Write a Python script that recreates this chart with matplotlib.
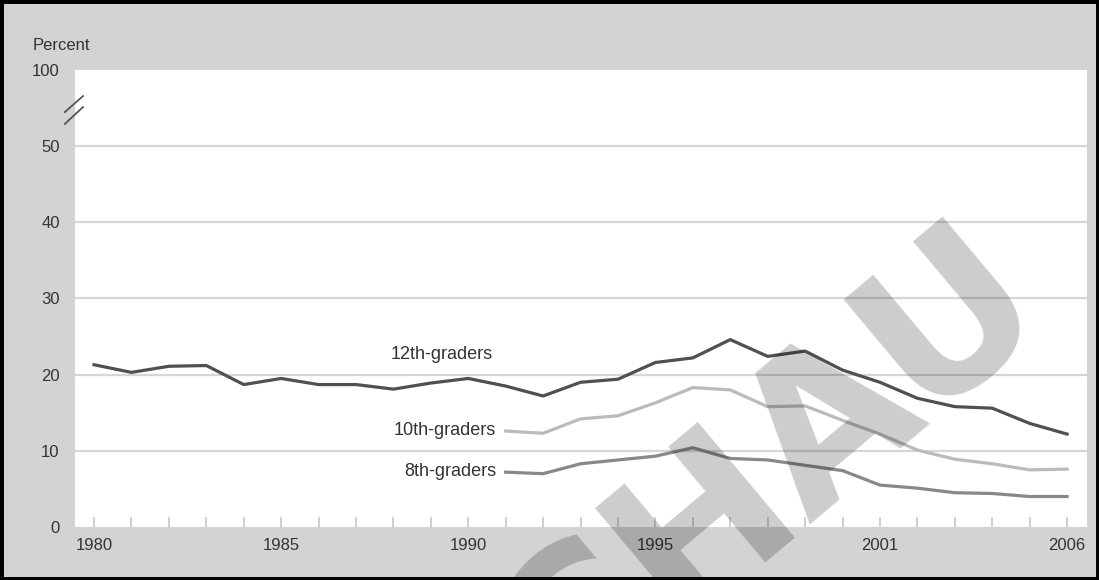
import matplotlib.pyplot as plt
from matplotlib.patches import Rectangle

plt.rcParams['font.family'] = ['Liberation Sans', 'DejaVu Sans']

years_12 = list(range(1980, 2007))
grade12 = [21.3, 20.3, 21.1, 21.2, 18.7, 19.5, 18.7, 18.7, 18.1, 18.9,
           19.5, 18.5, 17.2, 19.0, 19.4, 21.6, 22.2, 24.6, 22.4, 23.1,
           20.6, 19.0, 16.9, 15.8, 15.6, 13.6, 12.2]

years_lower = list(range(1991, 2007))
grade10 = [12.6, 12.3, 14.2, 14.6, 16.3, 18.3, 18.0, 15.8, 15.9, 14.0,
           12.2, 10.1, 8.9, 8.3, 7.5, 7.6]
grade8 = [7.2, 7.0, 8.3, 8.8, 9.3, 10.4, 9.0, 8.8, 8.1, 7.4,
          5.5, 5.1, 4.5, 4.4, 4.0, 4.0]

xtick_years = [1980, 1985, 1990, 1995, 2001, 2006]
ytick_vals = [0, 10, 20, 30, 40, 50, 60]
ytick_labels = ['0', '10', '20', '30', '40', '50', '100']

bg = '#d3d3d3'
txt = '#333333'

fig = plt.figure(figsize=(10.99, 5.80), dpi=100, facecolor=bg)
ax = fig.add_axes([0.0682, 0.0914, 0.9208, 0.7879])
ax.set_facecolor('white')

for y in ytick_vals[1:-1]:
    ax.axhline(y, color='#d6d6d6', lw=1.6, zorder=1)

ax.plot(years_12, grade12, color='#505050', lw=2.3, zorder=3)
ax.plot(years_lower, grade10, color='#bbbbbb', lw=2.3, zorder=3)
ax.plot(years_lower, grade8, color='#888888', lw=2.3, zorder=3)

ax.text(1989.3, 22.6, '12th-graders', ha='center', va='center',
        fontsize=13, color=txt)
ax.text(1990.75, 12.7, '10th-graders', ha='right', va='center',
        fontsize=13, color=txt)
ax.text(1990.75, 7.35, '8th-graders', ha='right', va='center',
        fontsize=13, color=txt)

ax.set_xlim(1979.49, 2006.53)
ax.set_ylim(0, 60)

ax.set_xticks(xtick_years)
ax.set_xticklabels([str(y) for y in xtick_years])
ax.set_xticks(years_12, minor=True)
ax.tick_params(axis='x', which='both', direction='in', length=7,
               color='#c8c8c8', width=1.2, labelsize=12, labelcolor=txt, pad=8)
ax.set_yticks(ytick_vals)
ax.set_yticklabels(ytick_labels)
ax.tick_params(axis='y', length=0, labelsize=12, labelcolor=txt, pad=11)

for s in ax.spines.values():
    s.set_visible(False)

# axis break marks
ax.plot([0.008, -0.010], [0.943, 0.908], transform=ax.transAxes,
        color='#555555', lw=1.3, clip_on=False)
ax.plot([0.008, -0.010], [0.919, 0.882], transform=ax.transAxes,
        color='#555555', lw=1.3, clip_on=False)

fig.text(33 / 1099, 1 - 45 / 580, 'Percent', ha='left', va='center',
         fontsize=12, color=txt)

# watermark
fig.text(770 / 1099, 1 - 476 / 580, 'CHAU', ha='center', va='center',
         rotation=40, rotation_mode='anchor', fontsize=148,
         fontweight='bold', family=['Liberation Sans Narrow', 'DejaVu Sans'],
         color='black', alpha=0.2, zorder=10)

fig.patches.append(Rectangle((0, 0), 1, 1, transform=fig.transFigure,
                             fill=False, edgecolor='black', lw=5))

fig.savefig('out.png', dpi=100, facecolor=bg)
